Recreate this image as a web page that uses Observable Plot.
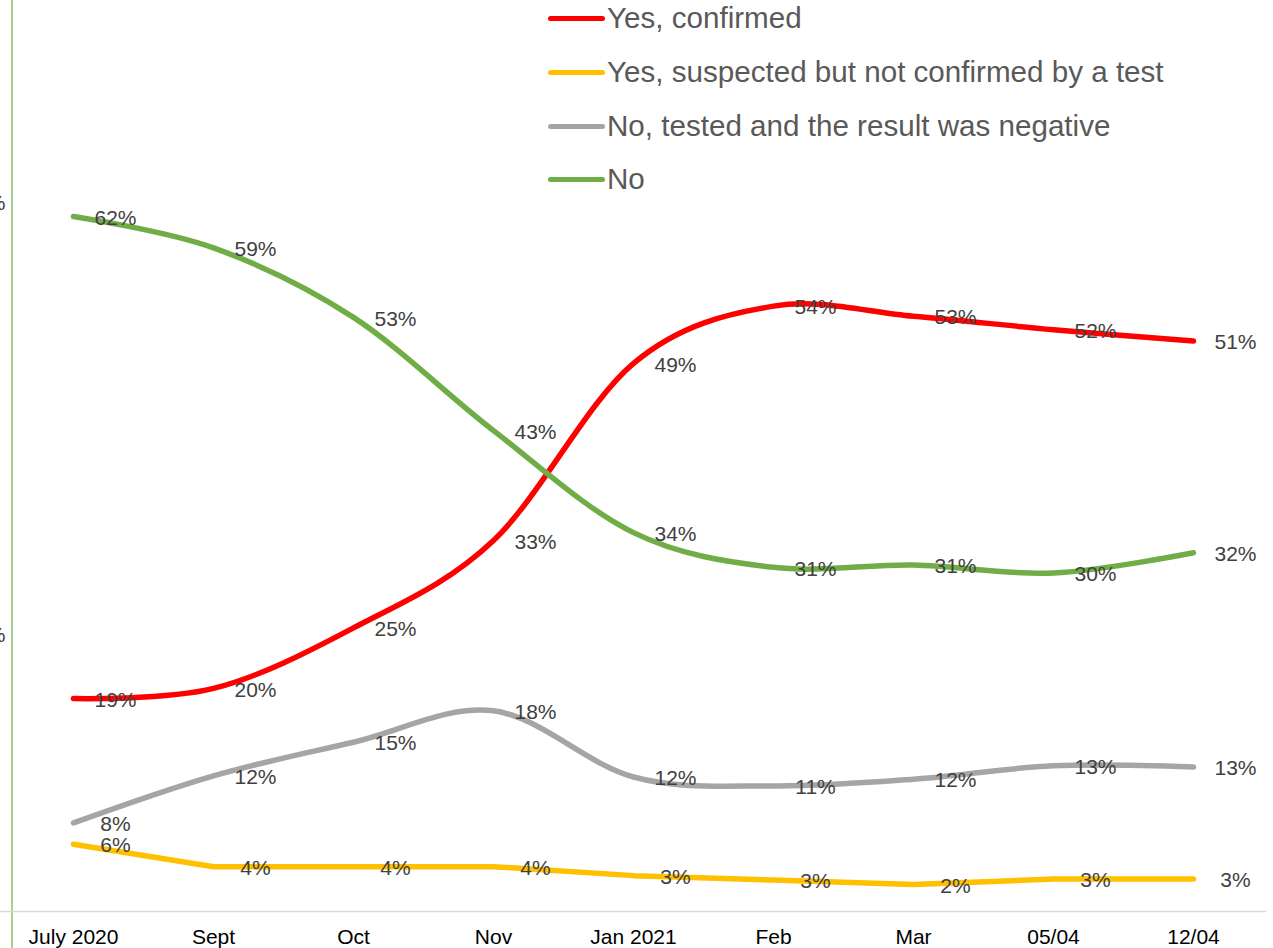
<!DOCTYPE html>
<html><head><meta charset="utf-8">
<script src="https://cdn.jsdelivr.net/npm/d3@7"></script>
<script src="https://cdn.jsdelivr.net/npm/@observablehq/plot@0.6"></script>
<style>
html,body{margin:0;padding:0;background:#fff;}
#wrap{position:relative;width:1273px;height:948px;overflow:hidden;font-family:"Liberation Sans",Arial,sans-serif;}
#legend{position:absolute;left:548px;top:0;}
.item{position:absolute;left:0;display:flex;align-items:center;white-space:nowrap;height:40px;}
.swatch{width:57px;height:5px;border-radius:3px;}
.lbl{font-size:29.6px;color:#595959;margin-left:2px;}
#vline{position:absolute;left:11px;top:0;width:2px;height:948px;background:#A9D18E;}
#chart{position:absolute;left:0;top:0;}
</style></head>
<body><div id="wrap"><div id="vline"></div><div id="chart"></div><div id="legend"></div></div>
<script>
const periods = ["July 2020","Sept","Oct","Nov","Jan 2021","Feb","Mar","05/04","12/04"];
const seriesNames = ["Yes, confirmed","Yes, suspected but not confirmed by a test","No, tested and the result was negative","No"];
const seriesColors = ["#FF0000","#FFC000","#A5A5A5","#70AD47"];
const confirmed = [19.0, 19.9, 25.3, 33.1, 48.9, 54.0, 53.1, 51.9, 50.9];
const suspected = [6.0, 4.0, 4.0, 4.0, 3.2, 2.8, 2.4, 2.9, 2.9];
const testedNegative = [7.9, 12.1, 15.1, 17.9, 12.0, 11.2, 11.8, 13.0, 12.9];
const no = [62.0, 59.2, 53.0, 42.9, 33.8, 30.7, 30.9, 30.2, 32.0];
const seriesValues = [confirmed, suspected, testedNegative, no];
const leftFragmentValues = [63.2, 24.6];

const rows = [];
seriesNames.forEach((s, i) => periods.forEach((p, j) => rows.push({series: s, period: p, value: seriesValues[i][j]})));
const straight = rows.filter(d => d.series === seriesNames[1]);
const smooth = rows.filter(d => d.series !== seriesNames[1]);

const chart = Plot.plot({
  width: 1273, height: 948,
  marginLeft: 0, marginRight: 7, marginBottom: 37, marginTop: 0,
  style: {fontFamily: "'Liberation Sans', Arial, sans-serif", background: "transparent", overflow: "visible"},
  x: {type: "point", domain: periods, range: [70, 1196], padding: 0, label: null},
  y: {domain: [0, 70], range: [911, 911 - 11.21 * 70], axis: null},
  color: {domain: seriesNames, range: seriesColors},
  marks: [
    Plot.ruleY([0], {stroke: "#D9D9D9", strokeWidth: 1.5}),
    Plot.axisX({tickSize: 0, tickPadding: 18, fontSize: 21, fill: "#000", color: "#000", label: null}),
    Plot.line(smooth, {x: "period", y: "value", z: "series", stroke: "series", strokeWidth: 5.5, curve: "cardinal", tension: 0, strokeLinecap: "round"}),
    Plot.line(straight, {x: "period", y: "value", z: "series", stroke: "series", strokeWidth: 5.5, curve: "linear", strokeLinecap: "round"}),
    Plot.text(rows, {x: "period", y: "value", text: d => Math.round(d.value) + "%", dx: 42, dy: 1.5, fill: "#404040", fontSize: 21}),
    Plot.text(leftFragmentValues, {y: d => d, frameAnchor: "left", text: () => "%", textAnchor: "end", dx: 5, fill: "#404040", fontSize: 21})
  ]
});
document.getElementById("chart").appendChild(chart);

const legend = document.getElementById("legend");
const legendRowCenters = [18, 72, 126, 179];
seriesNames.forEach((s, i) => {
  const item = document.createElement("div");
  item.className = "item";
  item.style.top = (legendRowCenters[i] - 20) + "px";
  const sw = document.createElement("div");
  sw.className = "swatch";
  sw.style.background = seriesColors[i];
  const lb = document.createElement("span");
  lb.className = "lbl";
  lb.textContent = s;
  item.appendChild(sw); item.appendChild(lb);
  legend.appendChild(item);
});
</script>
</body></html>
